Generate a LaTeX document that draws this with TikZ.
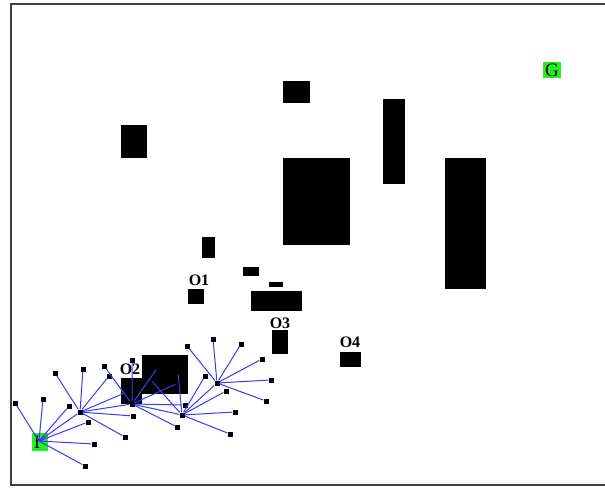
\documentclass[tikz,border=0pt]{standalone}
\usepackage{xcolor}
\usepackage{fontspec}
\setmainfont{Liberation Serif}
\usepackage{tikz}
\definecolor{Black}{HTML}{000000}
\definecolor{FrameGray}{HTML}{404040}
\definecolor{LinkBlue}{HTML}{3A3AF5}
\definecolor{Lime}{HTML}{22EE22}
\definecolor{White}{HTML}{FFFFFF}

\begin{document}
\begin{tikzpicture}[x=1pt, y=-1pt]
  \tikzstyle{obst} = [fill=Black]
  \tikzstyle{endbox} = [rectangle, fill=Lime, inner sep=0pt, font=\fontsize{19}{19}\selectfont]
  \tikzstyle{leaf} = [rectangle, fill=Black, inner sep=0pt, minimum size=5pt]
  \tikzstyle{link} = [draw=LinkBlue, line width=1pt]
  \tikzstyle{tag} = [inner sep=0pt, font=\bfseries\fontsize{16}{16}\selectfont]

  \useasboundingbox[fill=White] (0,0) rectangle (605,492);
  \draw[FrameGray, line width=1.3pt] (605,4) -- (11,4) -- (11,485) -- (605,485);

  % obstacles
  \fill[obst] (121,125) rectangle (147,158);
  \fill[obst] (283,81) rectangle (310,103);
  \fill[obst] (383,99) rectangle (405,184);
  \fill[obst] (283,158) rectangle (350,245);
  \fill[obst] (445,158) rectangle (486,289);
  \fill[obst] (202,237) rectangle (215,258);
  \fill[obst] (243,267) rectangle (259,276);
  \fill[obst] (269,282) rectangle (283,287);
  \fill[obst] (251,291) rectangle (302,311);
  \fill[obst] (188,289) rectangle (204,304);
  \fill[obst] (272,330) rectangle (288,354);
  \fill[obst] (340,352) rectangle (361,367);
  \fill[obst] (142,355) rectangle (188,394);
  \fill[obst] (121,378) rectangle (142,404);

  \node [tag] (o1) at (199,280) {O1};
  \node [tag] (o2) at (130,369) {O2};
  \node [tag] (o3) at (280,323) {O3};
  \node [tag] (o4) at (350,342) {O4};

  % start and goal
  \node [endbox, minimum width=16pt, minimum height=18pt] (start) at (40,442) {};
  \node [font=\fontsize{19}{19}\selectfont, inner sep=0pt] (starttxt) at (37,442) {I};
  \node [endbox, minimum width=18pt, minimum height=16pt] (goal) at (552,70) {G};

  % tree
  \coordinate (r) at (39,441);
  \node [leaf] (a) at (80,412) {};
  \node [leaf] (b) at (132,404) {};
  \node [leaf] (c) at (182,415) {};
  \node [leaf] (d) at (217,383) {};

  \node [leaf] (r1) at (15,403) {};
  \node [leaf] (r2) at (43,399) {};
  \node [leaf] (r3) at (69,406) {};
  \node [leaf] (r4) at (88,422) {};
  \node [leaf] (r5) at (94,444) {};
  \node [leaf] (r6) at (85,466) {};

  \node [leaf] (a1) at (55,373) {};
  \node [leaf] (a2) at (83,369) {};
  \node [leaf] (a3) at (109,376) {};
  \node [leaf] (a4) at (127,392) {};
  \node [leaf] (a5) at (133,416) {};
  \node [leaf] (a6) at (125,437) {};

  \node [leaf] (b1) at (132,360) {};
  \node [leaf] (b2) at (104,366) {};
  \node [leaf] (b3) at (158,367) {};
  \node [leaf] (b4) at (178,383) {};
  \node [leaf] (b5) at (185,405) {};
  \node [leaf] (b6) at (177,427) {};

  \node [leaf] (c1) at (150,379) {};
  \node [leaf] (c2) at (178,372) {};
  \node [leaf] (c3) at (205,376) {};
  \node [leaf] (c4) at (226,391) {};
  \node [leaf] (c5) at (235,412) {};
  \node [leaf] (c6) at (230,434) {};

  \node [leaf] (d1) at (187,346) {};
  \node [leaf] (d2) at (213,339) {};
  \node [leaf] (d3) at (241,344) {};
  \node [leaf] (d4) at (262,359) {};
  \node [leaf] (d5) at (271,380) {};
  \node [leaf] (d6) at (266,401) {};

  \draw[link] (r) -- (a) (a) -- (b) (b) -- (c) (c) -- (d);
  \draw[link] (r) -- (r1) (r) -- (r2) (r) -- (r3) (r) -- (r4) (r) -- (r5) (r) -- (r6);
  \draw[link] (a) -- (a1) (a) -- (a2) (a) -- (a3) (a) -- (a4) (a) -- (a5) (a) -- (a6);
  \draw[link] (b) -- (b1) (b) -- (b2) (b) -- (b3) (b) -- (b4) (b) -- (b5) (b) -- (b6);
  \draw[link] (c) -- (c1) (c) -- (c2) (c) -- (c3) (c) -- (c4) (c) -- (c5) (c) -- (c6);
  \draw[link] (d) -- (d1) (d) -- (d2) (d) -- (d3) (d) -- (d4) (d) -- (d5) (d) -- (d6);
\end{tikzpicture}
\end{document}
